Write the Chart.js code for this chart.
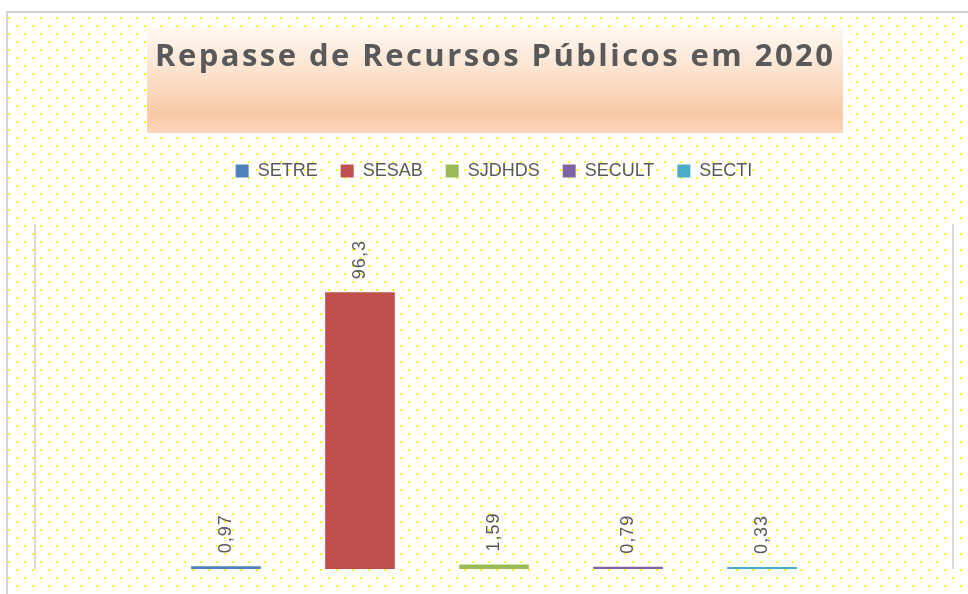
<!DOCTYPE html>
<html lang="pt-BR">
<head>
<meta charset="UTF-8">
<title>Repasse de Recursos Públicos em 2020</title>
<script src="https://cdn.jsdelivr.net/npm/chart.js"></script>
<style>
  html, body { margin: 0; padding: 0; background: #fff; }
  #wrap { width: 968px; height: 594px; }
</style>
</head>
<body>
<div id="wrap"><canvas id="grafico" width="968" height="594"></canvas></div>
<script>
// dados do gráfico
const titulo = 'Repasse de Recursos Públicos em 2020';
const categorias = ['2020'];
const secretarias = ['SETRE', 'SESAB', 'SJDHDS', 'SECULT', 'SECTI'];
const valores = [0.97, 96.3, 1.59, 0.79, 0.33];
const cores = ['#4f81bd', '#c0504d', '#9bbb59', '#8064a2', '#4bacc6'];
const eixoMax = 120;

const corTexto = '#595959';

// fundo branco com pontinhos amarelos + borda
const fundo = {
    id: 'fundo',
    beforeDraw(chart) {
        const ctx = chart.ctx;
        const w = chart.width, h = chart.height;
        ctx.save();
        ctx.fillStyle = '#ffffff';
        ctx.fillRect(0, 0, w, h);
        ctx.fillStyle = '#ffff00';
        let linha = 0;
        for (let y = 18; y < h; y += 8) {
            const x0 = (linha % 2 === 0) ? 9 : 17;
            for (let x = x0; x < w; x += 16) {
                ctx.fillRect(x - 1, y - 1, 2, 2);
            }
            linha++;
        }
        ctx.strokeStyle = '#d4d4d4';
        ctx.lineWidth = 2;
        ctx.beginPath();
        ctx.moveTo(7, h);
        ctx.lineTo(7, 12);
        ctx.lineTo(w, 12);
        ctx.stroke();
        ctx.restore();
    }
};

// caixa do título com degradê
const caixaTitulo = {
    id: 'caixaTitulo',
    beforeDatasetsDraw(chart) {
        const ctx = chart.ctx;
        ctx.save();
        const g = ctx.createLinearGradient(0, 27, 0, 133);
        g.addColorStop(0, '#fff8f3');
        g.addColorStop(0.45, '#fbe1cc');
        g.addColorStop(0.82, '#f9caa5');
        g.addColorStop(1, '#fbd7bc');
        ctx.fillStyle = g;
        ctx.fillRect(147, 27, 696, 106);

        ctx.font = '700 31px "Open Sans"';
        ctx.fillStyle = corTexto;
        ctx.textBaseline = 'alphabetic';
        ctx.textAlign = 'left';
        const w = ctx.measureText(titulo).width;
        const esp = (678 - w) / (titulo.length - 1);
        ctx.letterSpacing = esp + 'px';
        ctx.fillText(titulo, 155, 66);
        ctx.restore();
    }
};

// rótulos de dados girados
const rotulos = {
    id: 'rotulos',
    afterDatasetsDraw(chart) {
        const ctx = chart.ctx;
        ctx.save();
        ctx.font = '18px "Liberation Sans"';
        ctx.fillStyle = corTexto;
        ctx.letterSpacing = '1px';
        ctx.textAlign = 'left';
        ctx.textBaseline = 'middle';
        chart.data.datasets.forEach((ds, i) => {
            const meta = chart.getDatasetMeta(i);
            meta.data.forEach((el, j) => {
                const txt = String(ds.data[j]).replace('.', ',');
                ctx.save();
                ctx.translate(el.x, el.y - 13);
                ctx.rotate(-Math.PI / 2);
                ctx.fillText(txt, 0, 0);
                ctx.restore();
            });
        });
        ctx.restore();
    }
};

// espaço extra abaixo da legenda
const margemLegenda = {
    id: 'margemLegenda',
    beforeInit(chart) {
        const fitOrig = chart.legend.fit;
        chart.legend.fit = function () {
            fitOrig.bind(chart.legend)();
            this.height = 85;
        };
    }
};

const datasets = secretarias.map((nome, i) => ({
    label: nome,
    data: [valores[i]],
    backgroundColor: cores[i],
    borderWidth: 0,
    categoryPercentage: 0.73,
    barPercentage: 0.52,
    minBarLength: 2
}));

new Chart(document.getElementById('grafico'), {
    type: 'bar',
    data: { labels: categorias, datasets: datasets },
    options: {
        responsive: false,
        animation: false,
        devicePixelRatio: 1,
        layout: { padding: { top: 139, left: 35, right: 15, bottom: 25 } },
        plugins: {
            title: { display: false },
            tooltip: { enabled: false },
            legend: {
                position: 'top',
                labels: {
                    boxWidth: 13,
                    boxHeight: 13,
                    padding: 23,
                    color: corTexto,
                    font: { family: '"Liberation Sans"', size: 18 }
                }
            }
        },
        scales: {
            x: {
                grid: { color: '#d9d9d9', lineWidth: 2, drawTicks: false, offset: true },
                border: { display: false },
                ticks: { display: false }
            },
            y: {
                display: false,
                min: 0,
                max: eixoMax
            }
        }
    },
    plugins: [fundo, caixaTitulo, rotulos, margemLegenda]
});
</script>
</body>
</html>
